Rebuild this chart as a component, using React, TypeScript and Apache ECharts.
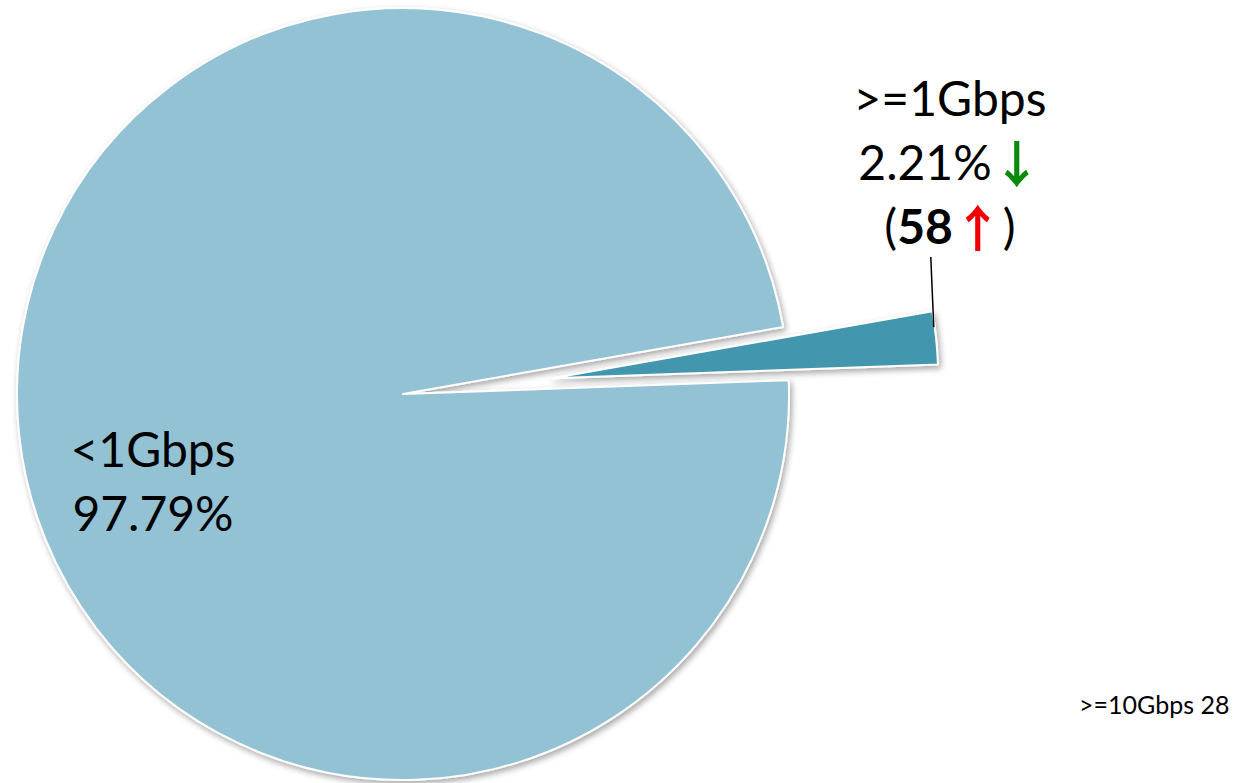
import React, { useEffect, useRef } from "react";
import * as echarts from "echarts";

const categories = [">=1Gbps", "<1Gbps"];
const shares = [2.21, 97.79];
const trendShare = ["down", ""];
const counts = [58, null];
const trendCount = ["up", ""];
const colors = ["#4397AF", "#93C2D4"];
const tenGLabel = ">=10Gbps";
const tenGCount = 28;

const CENTER = [403, 394];
const RADIUS = 386;
const START = 10;
const OFFSET = 150;

export default function App() {
  const ref = useRef<HTMLDivElement>(null);
  useEffect(() => {
    if (!ref.current) return;
    const chart = echarts.init(ref.current, null, { renderer: "svg" });
    const total = shares.reduce((a, b) => a + b, 0);
    const sweep = (shares[0] / total) * 360;
    const mid = ((START - sweep / 2) * Math.PI) / 180;
    const ox = CENTER[0] + OFFSET * Math.cos(mid);
    const oy = CENTER[1] - OFFSET * Math.sin(mid);
    const edgeAng = ((START - sweep * 0.3) * Math.PI) / 180;
    const ex = ox + (RADIUS - 1) * Math.cos(edgeAng);
    const ey = oy - (RADIUS - 1) * Math.sin(edgeAng);

    const baseLabel = {
      show: true,
      position: "inside",
      fontFamily: "Lato",
      fontSize: 48,
      color: "#000",
      lineHeight: 64,
      align: "center",
      formatter: (p: any) => {
        const i = p.dataIndex;
        let s = `${p.name}\n${p.value.toFixed(2)}%`;
        if (trendShare[i] === "down") s += "{g|↓}";
        if (counts[i] != null) {
          s += `\n({b|${counts[i]}}${trendCount[i] === "up" ? "{r|↑}" : ""})`;
        }
        return s;
      },
      rich: {
        g: { color: "#0A8A0A", fontSize: 50, fontWeight: "bold", fontFamily: "Noto Sans CJK SC", lineHeight: 64 },
        r: { color: "#F00000", fontSize: 50, fontWeight: "bold", fontFamily: "Noto Sans CJK SC", lineHeight: 64 },
        b: { fontWeight: "bold", fontSize: 48, fontFamily: "Lato", color: "#000", lineHeight: 64 },
      },
    };
    const shownStyle = {
      borderColor: "#fff",
      borderWidth: 2,
      shadowBlur: 6,
      shadowColor: "rgba(0,0,0,0.35)",
      shadowOffsetX: 2,
      shadowOffsetY: 3,
    };
    const hiddenStyle = {
      color: "rgba(0,0,0,0)",
      borderWidth: 0,
      shadowBlur: 0,
      shadowColor: "rgba(0,0,0,0)",
    };
    const makeData = (visibleIndex: number) =>
      categories.map((name, i) => ({
        name,
        value: shares[i],
        itemStyle: i === visibleIndex ? { ...shownStyle, color: colors[i] } : hiddenStyle,
        label: { show: i === visibleIndex },
      }));
    const common = {
      type: "pie",
      radius: [0, RADIUS],
      startAngle: START,
      clockwise: true,
      silent: true,
      emphasis: { disabled: true },
      labelLine: { show: false },
      label: baseLabel,
    };
    chart.setOption({
      animation: false,
      backgroundColor: "#fff",
      graphic: [
        {
          type: "line",
          shape: { x1: ex, y1: ey, x2: ex - 3, y2: 257 },
          style: { stroke: "#000", lineWidth: 1.5 },
          z: 10,
        },
        {
          type: "text",
          left: 1079,
          top: 691,
          style: {
            text: `${tenGLabel} ${tenGCount}`,
            font: "25px Lato",
            fill: "#000",
          },
        },
      ],
      series: [
        {
          ...common,
          center: CENTER,
          labelLayout: () => ({ x: 153, y: 480, align: "center", verticalAlign: "middle" }),
          data: makeData(1),
        },
        {
          ...common,
          center: [ox, oy],
          labelLayout: () => ({ x: 950, y: 161, align: "center", verticalAlign: "middle" }),
          data: makeData(0),
        },
      ],
    });
    return () => chart.dispose();
  }, []);
  return (
    <div
      ref={ref}
      style={{ position: "fixed", left: 0, top: 0, width: 1254, height: 783 }}
    />
  );
}
